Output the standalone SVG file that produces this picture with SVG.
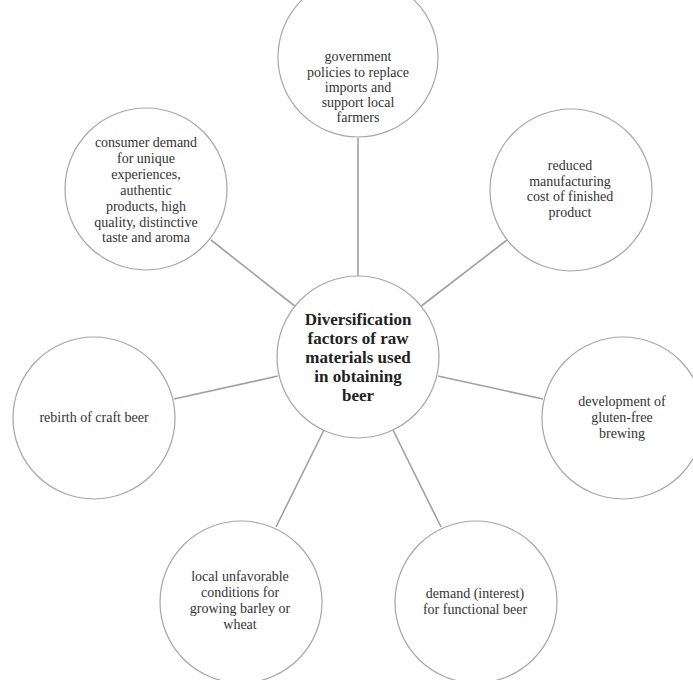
<svg xmlns="http://www.w3.org/2000/svg" width="693" height="680" viewBox="0 0 693 680">
<style>
.c{fill:#fff;stroke:#a6a6a6;stroke-width:1.2}
.l{stroke:#a0a0a0;stroke-width:1.6;fill:none}
text{font-family:"Liberation Serif","Times New Roman",serif;font-size:14px;fill:#333;text-anchor:middle}
.b{font-weight:bold;font-size:17px;fill:#222}
</style>
<rect width="693" height="680" fill="#fff"/>
<g id="connectors">
<line class="l" x1="358" y1="138" x2="358" y2="276"/>
<line class="l" x1="211" y1="240" x2="296" y2="307"/>
<line class="l" x1="507" y1="240" x2="420" y2="307"/>
<line class="l" x1="174" y1="399" x2="278" y2="376"/>
<line class="l" x1="438" y1="376" x2="543" y2="399"/>
<line class="l" x1="324" y1="430" x2="276" y2="527"/>
<line class="l" x1="393" y1="430" x2="441" y2="527"/>
</g>
<g id="center">
<circle class="c" cx="358" cy="357" r="81"/>
<text class="b" x="358" y="325">Diversification</text>
<text class="b" x="358" y="344">factors of raw</text>
<text class="b" x="358" y="363">materials used</text>
<text class="b" x="358" y="382">in obtaining</text>
<text class="b" x="358" y="401">beer</text>
</g>
<g id="government">
<circle class="c" cx="358" cy="57" r="80"/>
<text x="358" y="61">government</text>
<text x="358" y="77">policies to replace</text>
<text x="358" y="92">imports and</text>
<text x="358" y="107">support local</text>
<text x="358" y="122">farmers</text>
</g>
<g id="consumer">
<circle class="c" cx="146" cy="189" r="81"/>
<text x="146" y="147">consumer demand</text>
<text x="146" y="163">for unique</text>
<text x="146" y="179">experiences,</text>
<text x="146" y="195">authentic</text>
<text x="146" y="211">products, high</text>
<text x="146" y="227">quality, distinctive</text>
<text x="146" y="242">taste and aroma</text>
</g>
<g id="reduced">
<circle class="c" cx="571" cy="190" r="81"/>
<text x="570" y="170">reduced</text>
<text x="570" y="186">manufacturing</text>
<text x="570" y="201">cost of finished</text>
<text x="570" y="217">product</text>
</g>
<g id="rebirth">
<circle class="c" cx="94" cy="418" r="81"/>
<text x="94" y="422">rebirth of craft beer</text>
</g>
<g id="gluten">
<circle class="c" cx="623" cy="418" r="81"/>
<text x="622" y="406">development of</text>
<text x="622" y="422">gluten-free</text>
<text x="622" y="438">brewing</text>
</g>
<g id="local">
<circle class="c" cx="241" cy="602" r="81"/>
<text x="240" y="581">local unfavorable</text>
<text x="240" y="597">conditions for</text>
<text x="240" y="613">growing barley or</text>
<text x="240" y="629">wheat</text>
</g>
<g id="demand">
<circle class="c" cx="476" cy="602" r="81"/>
<text x="475" y="598">demand (interest)</text>
<text x="475" y="614">for functional beer</text>
</g>
</svg>
